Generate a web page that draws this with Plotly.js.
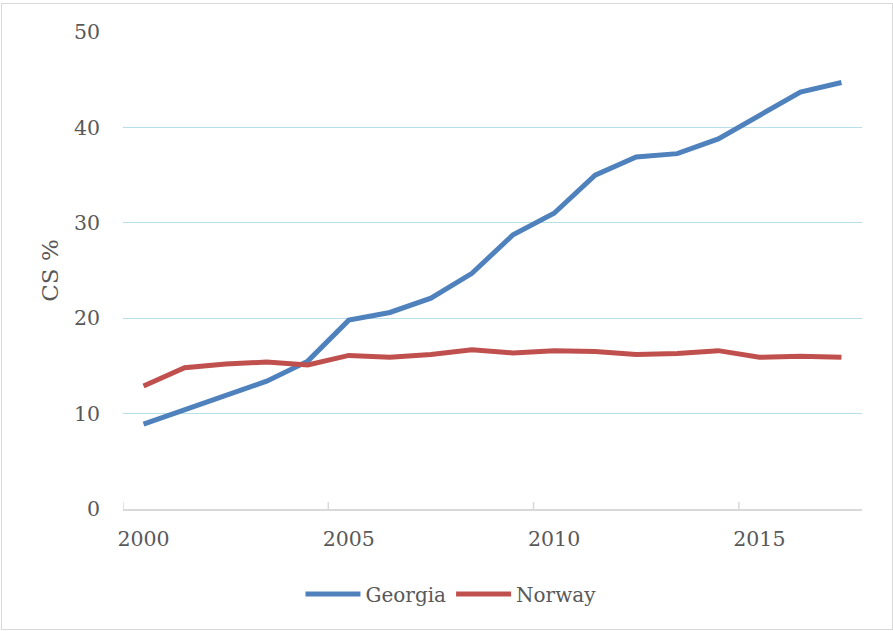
<!DOCTYPE html>
<html>
<head>
<meta charset="utf-8">
<script src="https://cdn.plot.ly/plotly-3.0.1.min.js"></script>
<style>
  html, body { margin: 0; padding: 0; background: #ffffff; }
  #chart { width: 893px; height: 631px; position: absolute; left: 0; top: 0; }
  #frame { position: absolute; left: 1px; top: 3px; width: 890px; height: 625px;
           border: 1px solid #d9d9d9; pointer-events: none; }
</style>
</head>
<body>
<div id="chart"></div>
<div id="frame"></div>
<script>
// Data
const years = [2000, 2001, 2002, 2003, 2004, 2005, 2006, 2007, 2008,
               2009, 2010, 2011, 2012, 2013, 2014, 2015, 2016, 2017];
const georgia = [8.9, 10.4, 11.9, 13.4, 15.5, 19.8, 20.6, 22.1, 24.7,
                 28.75, 31.0, 35.0, 36.9, 37.25, 38.8, 41.3, 43.7, 44.7];
const norway = [12.9, 14.8, 15.2, 15.4, 15.1, 16.1, 15.9, 16.2, 16.7,
                16.35, 16.6, 16.5, 16.2, 16.3, 16.6, 15.9, 16.0, 15.9];
const xTickLabels = ['2000', '2005', '2010', '2015'];
const yTickLabels = ['0', '10', '20', '30', '40', '50'];
const seriesNames = ['Georgia', 'Norway'];

const fontFamily = '"DejaVu Serif", "Liberation Serif", serif';
const textColor = '#595959';

const traces = [
  { x: years, y: georgia, name: seriesNames[0], type: 'scatter', mode: 'lines',
    line: { color: '#4f81bd', width: 5 } },
  { x: years, y: norway, name: seriesNames[1], type: 'scatter', mode: 'lines',
    line: { color: '#c0504d', width: 5 } }
];

// category-boundary tick marks (between categories, every 5)
const tickShapes = xTickLabels.map(v => ({
  type: 'line', xref: 'x', yref: 'y', ysizemode: 'pixel', yanchor: 0,
  x0: Number(v) - 0.5, x1: Number(v) - 0.5, y0: -7, y1: 7,
  line: { color: '#d9d9d9', width: 1.5 }, layer: 'above'
}));

const layout = {
  width: 893, height: 631,
  margin: { l: 123, r: 31, t: 32, b: 122 },
  paper_bgcolor: '#ffffff', plot_bgcolor: '#ffffff',
  font: { family: fontFamily, color: textColor, size: 20 },
  showlegend: true,
  legend: {
    orientation: 'h', xref: 'container', yref: 'container',
    x: 0.505, xanchor: 'center', y: 1 - 594 / 631, yanchor: 'middle',
    font: { family: fontFamily, color: textColor, size: 20 },
    itemwidth: 55
  },
  xaxis: {
    range: [years[0] - 0.5, years[years.length - 1] + 0.5],
    tickvals: xTickLabels.map(Number), ticktext: xTickLabels,
    ticks: '', showgrid: false, zeroline: false,
    showline: true, linecolor: '#d9d9d9', linewidth: 1.5,
    tickfont: { family: fontFamily, color: textColor, size: 20.5 },
    ticklabelstandoff: 11,
    fixedrange: true
  },
  yaxis: {
    range: [0, 50],
    tickvals: yTickLabels.map(Number), ticktext: yTickLabels,
    ticks: '', showgrid: true, gridcolor: '#b7dfea', gridwidth: 1.3,
    zeroline: false, showline: false,
    tickfont: { family: fontFamily, color: textColor, size: 20.5 },
    ticklabelstandoff: 22,
    title: { text: 'CS %', font: { family: fontFamily, color: textColor, size: 23 }, standoff: 8 },
    fixedrange: true
  },
  shapes: tickShapes
};

Plotly.newPlot('chart', traces, layout, { displayModeBar: false, staticPlot: true });
</script>
</body>
</html>
